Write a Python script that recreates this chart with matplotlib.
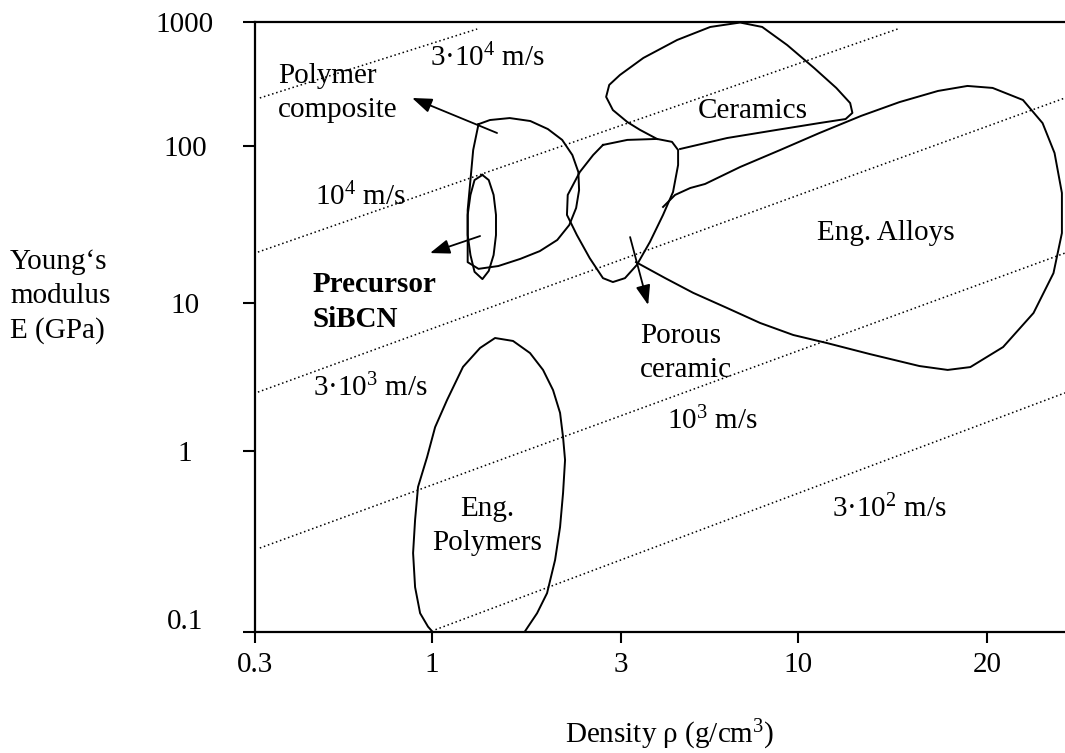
import numpy as np
import matplotlib
matplotlib.use("Agg")
import matplotlib.pyplot as plt
from matplotlib.transforms import ScaledTranslation

plt.rcParams["font.family"] = ["Liberation Serif", "DejaVu Serif"]
plt.rcParams["mathtext.fontset"] = "custom"
plt.rcParams["mathtext.rm"] = "Liberation Serif"
plt.rcParams["mathtext.it"] = "Liberation Serif:italic"
plt.rcParams["mathtext.bf"] = "Liberation Serif:bold"

# axis ticks
x_ticks = [0.3, 1, 3, 10, 20]
x_tick_labels = ["0.3", "1", "3", "10", "20"]
y_ticks = [0.1, 1, 10, 100, 1000]
y_tick_labels = ["0.1", "1", "10", "100", "1000"]

# the hand drawn axes are not evenly spaced per decade, keep tick spacing as drawn
x_tick_pos = [0, 177, 366, 543, 732]
y_tick_pos = [0, 181, 329, 486, 610]

# material fields: density (g/cm3), Young's modulus (GPa)
composite_rho = [1.31, 1.40, 1.57, 1.77, 1.96, 2.13, 2.26, 2.34, 2.35, 2.31, 2.22,
                 2.07, 1.87, 1.67, 1.47, 1.31, 1.23, 1.23, 1.23, 1.25, 1.27, 1.31]
composite_E = [150, 162, 168, 159, 137, 112, 87.6, 68.3, 52.4, 40.3, 31.4,
               25.2, 21.4, 19.1, 17.2, 16.5, 18.2, 25.2, 39.1, 60.7, 94.3, 150]

precursor_rho = [1.34, 1.39, 1.43, 1.45, 1.45, 1.43, 1.39, 1.34, 1.28, 1.25, 1.23,
                 1.23, 1.25, 1.28, 1.34]
precursor_E = [65.4, 60.7, 48.8, 36.4, 27.1, 20.2, 16.0, 14.2, 15.8, 20.2, 27.1,
               36.4, 48.8, 60.7, 65.4]

porous_rho = [2.70, 3.13, 3.83, 4.24, 4.42, 4.42, 4.27, 3.99, 3.65, 3.34, 3.08,
              2.86, 2.70, 2.50, 2.32, 2.19, 2.20, 2.36, 2.55, 2.70]
porous_E = [102, 112, 114, 108, 94.3, 75.7, 50.9, 36.4, 24.5, 17.5, 14.4,
            13.6, 14.4, 19.3, 27.1, 36.4, 48.8, 68.3, 87.6, 102]

ceramics_rho = [3.83, 3.41, 3.13, 2.86, 2.75, 2.80, 2.98, 3.49, 4.39, 5.50, 6.74,
                7.83, 9.28, 10.6, 11.5, 12.1, 12.2, 11.9, 10.8, 8.67, 6.17, 4.48]
ceramics_E = [114, 135, 156, 195, 249, 311, 374, 513, 716, 912, 990,
              912, 652, 426, 294, 222, 185, 165, 153, 135, 116, 95.7]

alloys_rho = [3.32, 4.05, 4.90, 6.17, 7.72, 9.67, 11.1, 13.0, 15.6, 17.3, 18.8,
              21.2, 23.7, 25.5, 26.3, 26.3, 25.6, 24.5, 22.8, 20.4, 18.6, 16.7,
              14.5, 12.6, 10.8, 8.85, 6.74, 5.31, 4.80, 4.33, 3.99]
alloys_E = [18.2, 14.4, 11.6, 9.25, 7.33, 6.08, 5.37, 4.52, 3.75, 3.53, 3.69,
            5.04, 8.56, 15.5, 27.9, 50.2, 90.2, 153, 235, 294, 305, 278,
            226, 175, 127, 94.3, 73.5, 57.3, 54.0, 48.8, 40.9]

polymers_rho = [1.00, 0.973, 0.922, 0.891, 0.879, 0.891, 0.909, 0.967, 1.018, 1.091,
                1.197, 1.322, 1.442, 1.601, 1.767, 1.906, 2.020, 2.104, 2.141, 2.166,
                2.141, 2.104, 2.044, 1.951, 1.841, 1.747, 1.717]
polymers_E = [0.101, 0.107, 0.127, 0.177, 0.273, 0.416, 0.633, 0.927, 1.45, 2.21,
              3.70, 4.97, 5.80, 5.54, 4.59, 3.53, 2.58, 1.81, 1.24, 0.892,
              0.586, 0.380, 0.250, 0.164, 0.127, 0.107, 0.101]

# lines of constant sound velocity (start / end points)
speed_rho_start = [0.310, 0.306, 0.306, 0.310, 1.02]
speed_E_start = [244, 21.1, 2.50, 0.291, 0.103]
speed_rho_end = [1.30, 14.4, 26.6, 26.6, 26.6]
speed_E_end = [878, 878, 244, 20.8, 2.47]

# arrows: (rho, E) start -> tip
arrow_start = [(1.459, 127.3), (1.322, 26.7), (3.189, 26.3)]
arrow_tip = [(0.873, 244), (0.986, 20.8), (3.606, 9.69)]


def piecewise_log(vals, pos):
    lv = np.log10(vals)
    pos = np.asarray(pos, float)
    s0 = (pos[1] - pos[0]) / (lv[1] - lv[0])
    s1 = (pos[-1] - pos[-2]) / (lv[-1] - lv[-2])

    def fwd(v):
        with np.errstate(divide="ignore", invalid="ignore"):
            l = np.log10(np.asarray(v, float))
        out = np.interp(l, lv, pos)
        out = np.where(l < lv[0], pos[0] + (l - lv[0]) * s0, out)
        out = np.where(l > lv[-1], pos[-1] + (l - lv[-1]) * s1, out)
        return out

    def inv(p):
        p = np.asarray(p, float)
        l = np.interp(p, pos, lv)
        l = np.where(p < pos[0], lv[0] + (p - pos[0]) / s0, l)
        l = np.where(p > pos[-1], lv[-1] + (p - pos[-1]) / s1, l)
        return 10 ** l

    return fwd, inv


fig = plt.figure(figsize=(10.65, 7.53), dpi=100)
ax = fig.add_axes([255 / 1065, 121 / 753, 810 / 1065, 610 / 753])
ax.set_xscale("function", functions=piecewise_log(x_ticks, x_tick_pos))
ax.set_yscale("function", functions=piecewise_log(y_ticks, y_tick_pos))
ax.set_xlim(0.3, 26.6)
ax.set_ylim(0.1, 1000)

for r0, e0, r1, e1 in zip(speed_rho_start, speed_E_start, speed_rho_end, speed_E_end):
    ax.plot([r0, r1], [e0, e1], color="black", lw=1.1, ls=(0, (1, 1.8)))

for rho, E in [(composite_rho, composite_E), (precursor_rho, precursor_E),
               (porous_rho, porous_E), (ceramics_rho, ceramics_E),
               (alloys_rho, alloys_E), (polymers_rho, polymers_E)]:
    ax.plot(rho, E, color="black", lw=1.4, solid_joinstyle="round")

for s, t in zip(arrow_start, arrow_tip):
    ax.annotate("", xy=t, xytext=s,
                arrowprops=dict(arrowstyle="-|>,head_length=0.6,head_width=0.22",
                                mutation_scale=20, color="black", lw=1.3,
                                shrinkA=0, shrinkB=0))


def at(px, py):
    return (px - 255) / 810, (632 - py) / 610


fs = 21
# baseline of the last line is given for multi-line labels
labels = [
    ("Polymer\ncomposite", 278, 117, "left", "normal"),
    ("3·10$^{4}$ m/s", 430, 66, "left", "normal"),
    ("10$^{4}$ m/s", 315, 205, "left", "normal"),
    ("Ceramics", 698, 118, "left", "normal"),
    ("Precursor\nSiBCN", 313, 327, "left", "bold"),
    ("3·10$^{3}$ m/s", 313, 396, "left", "normal"),
    ("Eng. Alloys", 817, 240, "left", "normal"),
    ("Porous\nceramic", 640, 377, "left", "normal"),
    ("10$^{3}$ m/s", 667, 429, "left", "normal"),
    ("Eng.\nPolymers", 487, 550, "center", "normal"),
    ("3·10$^{2}$ m/s", 832, 517, "left", "normal"),
]
for txt, px, py, ha, fw in labels:
    ax.text(*at(px, py), txt, transform=ax.transAxes, fontsize=fs, ha=ha,
            va="baseline", fontweight=fw, linespacing=1.4, multialignment=ha)

fig.text(10 / 1065, 1 - 338 / 753, "Young\u2018s\nmodulus\nE (GPa)", fontsize=fs,
         ha="left", va="baseline", linespacing=1.4)
fig.text(565 / 1065, 1 - 743 / 753, "Density ρ (g/cm$^{3}$)", fontsize=fs,
         ha="left", va="baseline")

ax.set_xticks(x_ticks, x_tick_labels)
ax.set_yticks(y_ticks, y_tick_labels)
ax.minorticks_off()
ax.tick_params(axis="x", direction="out", length=8, width=1.5, pad=6.5, labelsize=fs)
ax.tick_params(axis="y", direction="out", length=8.6, width=1.5, pad=41.8, labelsize=fs)
ylabs = ax.get_yticklabels()
for lab in ylabs:
    lab.set_horizontalalignment("center")
# the bottom label sits a little above its tick in the drawing
ylabs[0].set_transform(ylabs[0].get_transform()
                       + ScaledTranslation(0, 0.13, fig.dpi_scale_trans))

ax.spines["right"].set_visible(False)
for side in ["left", "top", "bottom"]:
    ax.spines[side].set_linewidth(1.6)

fig.savefig("out.png", dpi=100)
